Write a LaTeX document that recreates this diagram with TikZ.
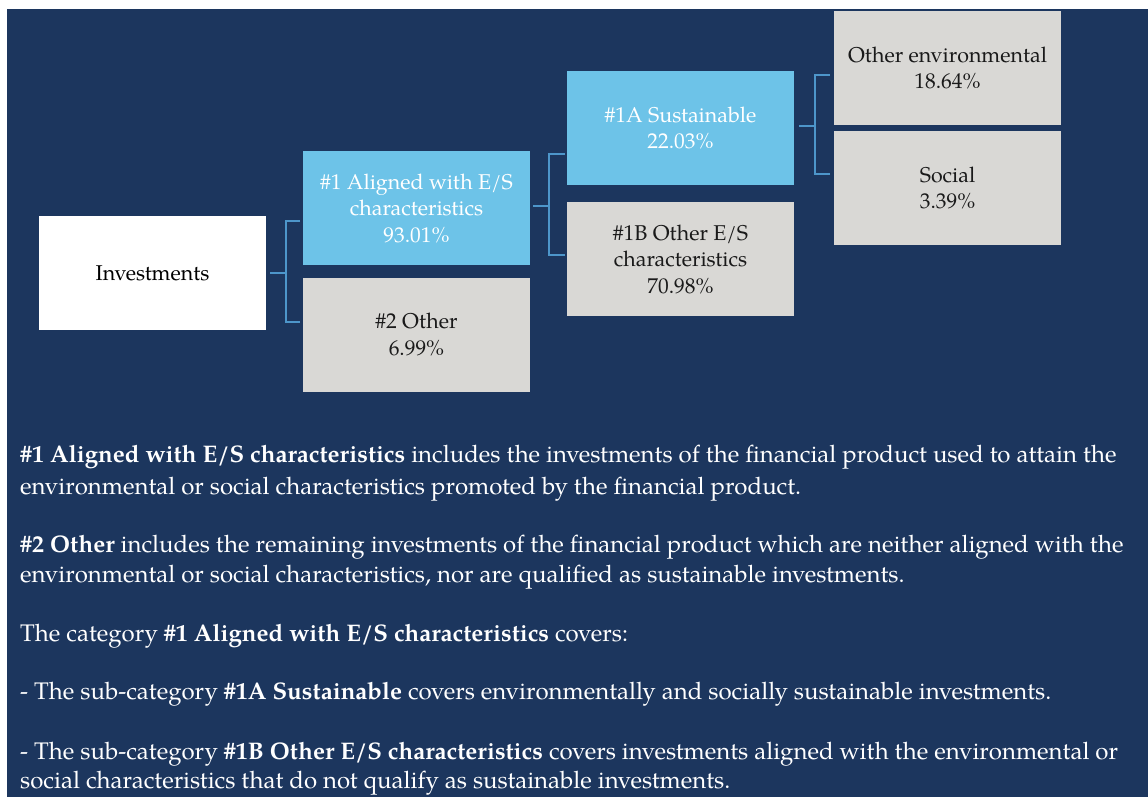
\documentclass[tikz,border=0pt]{standalone}
\usepackage{fontspec}
\setmainfont{TeX Gyre Pagella}
\definecolor{navy}{HTML}{1C365E}
\definecolor{lblue}{HTML}{6DC3E8}
\definecolor{lgray}{HTML}{D9D8D5}
\definecolor{conncol}{HTML}{4D96CA}
\definecolor{dtext}{HTML}{1A1A1A}
\tikzset{
  box/.style={rectangle, minimum width=227pt, minimum height=114pt, inner sep=2pt,
    align=center, font=\fontsize{21.4}{26.5}\selectfont},
  bluebox/.style={box, fill=lblue, text=white},
  graybox/.style={box, fill=lgray, text=dtext},
  whitebox/.style={box, fill=white, text=black},
  conn/.style={draw=conncol, line width=1.6pt},
  para/.style={anchor=base west, inner sep=0pt, text=white, font=\fontsize{24}{30}\selectfont}
}
\begin{document}
\begin{tikzpicture}[x=1pt, y=-1pt]
\useasboundingbox (0,0) rectangle (1148,797);
\fill[white] (0,0) rectangle (1148,797);
\fill[navy] (7,9) rectangle (1148,797);

\node[whitebox] (inv) at (152.5,273) {Investments};
\node[bluebox] (a1) at (416.5,208) {\#1 Aligned with E/S\\characteristics\\93.01\%};
\node[graybox] (o2) at (416.5,334.5) {\#2 Other\\6.99\%};
\node[bluebox] (s1a) at (680.5,128) {\#1A Sustainable\\22.03\%};
\node[graybox] (o1b) at (680.5,259) {\#1B Other E/S\\characteristics\\70.98\%};
\node[graybox] (oenv) at (947.5,68) {Other environmental\\18.64\%};
\node[graybox] (soc) at (947.5,188) {Social\\3.39\%};

% bracket 1
\coordinate (j1) at (286,273);
\coordinate (t1a) at (300,221);
\coordinate (t1b) at (300,322);
\draw[conn] ([xshift=4pt]inv.east) -- (j1);
\draw[conn] (t1a) -| (j1);
\draw[conn] (t1b) -| (j1);
% bracket 2
\coordinate (j2) at (549,206);
\coordinate (t2a) at (565,154);
\coordinate (t2b) at (565,255);
\draw[conn] ([xshift=3pt]a1.east |- j2) -- (j2);
\draw[conn] (t2a) -| (j2);
\draw[conn] (t2b) -| (j2);
% bracket 3
\coordinate (j3) at (815,126);
\coordinate (t3a) at (830,75);
\coordinate (t3b) at (830,174);
\draw[conn] ([xshift=5pt]s1a.east |- j3) -- (j3);
\draw[conn] (t3a) -| (j3);
\draw[conn] (t3b) -| (j3);

% explanatory text
\node[para] (l1) at (20,462) {\textbf{\#1 Aligned with E/S characteristics} includes the investments of the financial product used to attain the};
\node[para] (l2) at (20,494) {environmental or social characteristics promoted by the financial product.};
\node[para] (l3) at (20,552) {\textbf{\#2 Other} includes the remaining investments of the financial product which are neither aligned with the};
\node[para] (l4) at (20,582) {environmental or social characteristics, nor are qualified as sustainable investments.};
\node[para] (l5) at (20,641) {The category \textbf{\#1 Aligned with E/S characteristics} covers:};
\node[para] (l6) at (20,699) {- The sub-category \textbf{\#1A Sustainable} covers environmentally and socially sustainable investments.};
\node[para] (l7) at (20,759) {- The sub-category \textbf{\#1B Other E/S characteristics} covers investments aligned with the environmental or};
\node[para] (l8) at (20,788) {social characteristics that do not qualify as sustainable investments.};
\end{tikzpicture}
\end{document}
